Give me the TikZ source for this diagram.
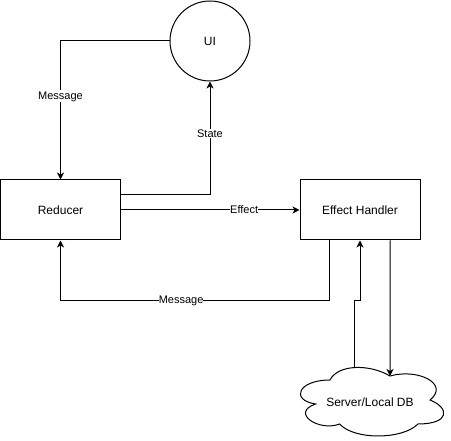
\documentclass[tikz,border=0pt]{standalone}
\usepackage{fontspec}
\setmainfont{Liberation Sans}
\usetikzlibrary{arrows.meta,calc}
\begin{document}
\begin{tikzpicture}[x=1pt,y=-1pt,
  box/.style={draw,line width=1pt,minimum width=120pt,minimum height=60pt,inner sep=0pt,font=\fontsize{12}{14}\selectfont},
  circ/.style={draw,circle,line width=1pt,minimum size=80pt,inner sep=0pt,font=\fontsize{12}{14}\selectfont},
  conn/.style={line width=1pt,-{Stealth[length=7pt,width=7pt,inset=2pt]}},
  lbl/.style={fill=white,inner sep=1pt,font=\fontsize{11}{13}\selectfont}]
\useasboundingbox (0,0) rectangle (451,441);
\node[circ] (ui) at (210,41) {UI};
\node[box] (red) at (60.5,210) {Reducer};
\node[box] (eh) at (360,210) {Effect Handler};
% cloud
\draw[line width=1pt] (330,380) .. controls (298,380) and (290,400) .. (315.6,404)
  .. controls (290,412.8) and (318.8,432) .. (339.6,424)
  .. controls (354,440) and (402,440) .. (418,424)
  .. controls (450,424) and (450,408) .. (430,400)
  .. controls (450,384) and (418,368) .. (390,376)
  .. controls (370,364) and (338,364) .. (330,380) -- cycle;
\node[font=\fontsize{12}{14}\selectfont] (db) at (370,402) {Server/Local DB};
\coordinate (cs) at (354,367.5);
\coordinate (ct) at (390,376);
% connectors
\draw[conn] (ui.west) -| node[lbl,pos=0.7] {Message} (red.north);
\draw[conn] ($(red.north east)!0.25!(red.south east)$) -| node[lbl,pos=0.77] {State} (ui.south);
\draw[conn] (red.east) -- node[lbl,pos=0.69,inner sep=0pt] {Effect} (eh.west);
\draw[conn] ($(eh.south west)!0.25!(eh.south east)$) -- ++(0,60) -| node[lbl,pos=0.276,inner sep=0pt] {Message} (red.south);
\draw[conn] (cs) -- ++(0,-66.5) -| (eh.south);
\draw[conn] ($(eh.south west)!0.75!(eh.south east)$) -- (ct);
\end{tikzpicture}
\end{document}
